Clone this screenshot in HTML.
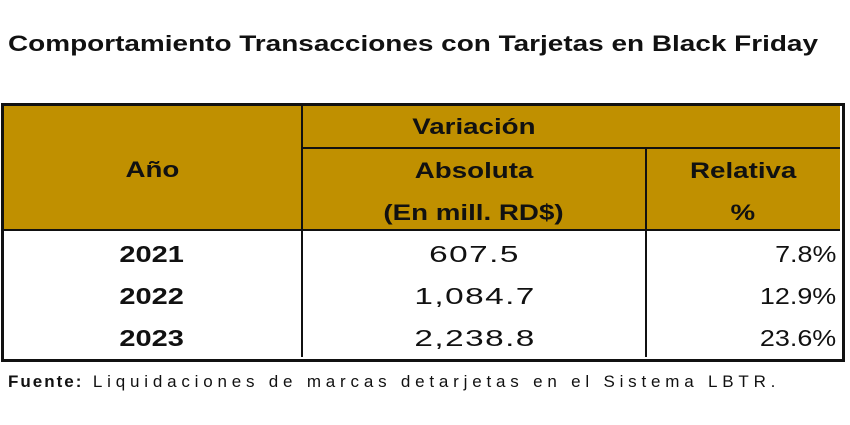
<!DOCTYPE html>
<html><head><meta charset="utf-8"><style>
body{margin:0;width:850px;height:425px;background:#fff;position:relative;overflow:hidden;font-family:"Liberation Sans",sans-serif;color:#111}
.a{position:absolute;white-space:nowrap}
.b{font-weight:bold}
.c{text-align:center}
.c span{display:inline-block;transform:scaleX(1.26);transform-origin:center}
.r span{display:inline-block;transform:scaleX(1.17);transform-origin:right}
.n span{transform:scaleX(1.45);letter-spacing:1px;padding-left:1px}
</style></head><body>
<div class="a b" style="left:8px;top:31px;font-size:22px;transform:scaleX(1.27);transform-origin:left;">Comportamiento Transacciones con Tarjetas en Black Friday</div>
<div class="a" style="left:2px;top:104px;width:838px;height:126px;background:#C09000;"></div>
<div class="a" style="left:1px;top:103px;width:838px;height:253px;border:3px solid #111;"></div>
<div class="a" style="left:301px;top:104px;width:2px;height:253px;background:#111;"></div>
<div class="a" style="left:645px;top:148px;width:2px;height:209px;background:#111;"></div>
<div class="a" style="left:302px;top:147px;width:538px;height:2px;background:#111;"></div>
<div class="a" style="left:2px;top:229px;width:838px;height:2px;background:#111;"></div>
<div class="a b c" style="left:302px;width:344px;top:114px;font-size:22px;"><span>Variación</span></div>
<div class="a b c" style="left:2px;width:300px;top:157px;font-size:22px;"><span>Año</span></div>
<div class="a b c" style="left:302px;width:344px;top:158px;font-size:22px;"><span>Absoluta</span></div>
<div class="a b c" style="left:302px;width:344px;top:200px;font-size:22px;"><span>(En mill. RD$)</span></div>
<div class="a b c" style="left:646px;width:194px;top:158px;font-size:22px;"><span>Relativa</span></div>
<div class="a b c" style="left:646px;width:194px;top:200px;font-size:22px;"><span>%</span></div>
<div class="a b c" style="left:2px;width:300px;top:241px;font-size:23px;"><span>2021</span></div>
<div class="a b c" style="left:2px;width:300px;top:283px;font-size:23px;"><span>2022</span></div>
<div class="a b c" style="left:2px;width:300px;top:325px;font-size:23px;"><span>2023</span></div>
<div class="a c n" style="left:302px;width:344px;top:241px;font-size:23px;"><span>607.5</span></div>
<div class="a c n" style="left:302px;width:344px;top:283px;font-size:23px;"><span>1,084.7</span></div>
<div class="a c n" style="left:302px;width:344px;top:325px;font-size:23px;"><span>2,238.8</span></div>
<div class="a r" style="right:14px;top:241px;font-size:23px;"><span>7.8%</span></div>
<div class="a r" style="right:14px;top:283px;font-size:23px;"><span>12.9%</span></div>
<div class="a r" style="right:14px;top:325px;font-size:23px;"><span>23.6%</span></div>
<div class="a" style="left:8px;top:372px;font-size:17px;letter-spacing:4.8px;"><b style="letter-spacing:2px">Fuente:</b> Liquidaciones de marcas detarjetas en el Sistema LBTR.</div>
</body></html>
